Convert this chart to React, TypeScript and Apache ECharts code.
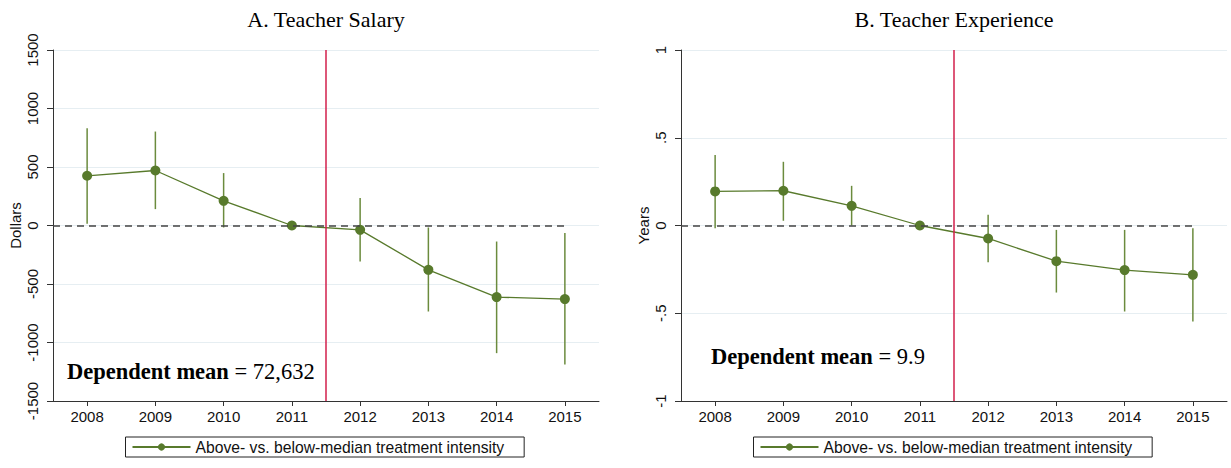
import React, { useEffect, useRef } from 'react';
import * as echarts from 'echarts';

const years = [2008, 2009, 2010, 2011, 2012, 2013, 2014, 2015];
const salaryCoef = [425, 470, 211, 0, -37, -379, -612, -629];
const salaryLo = [15, 140, -17, 0, -308, -735, -1091, -1189];
const salaryHi = [832, 803, 448, 0, 234, -17, -137, -65];
const expCoef = [0.194, 0.198, 0.112, 0, -0.074, -0.203, -0.254, -0.281];
const expLo = [-0.015, 0.027, 0.0, 0, -0.209, -0.382, -0.49, -0.547];
const expHi = [0.401, 0.363, 0.226, 0, 0.061, -0.025, -0.025, -0.015];
const seriesName = 'Above- vs. below-median treatment intensity';
const panelTitles = ['A. Teacher Salary', 'B. Teacher Experience'];
const yNames = ['Dollars', 'Years'];
const depMeans = ['72,632', '9.9'];

const GREEN = '#587a2c';
const BAR_GREEN = '#6b8b3d';
const RED = '#d21f4b';
const SANS = 'Liberation Sans, Arial, sans-serif';
const SERIF = 'Liberation Serif, Times New Roman, serif';

function fmtYears(v: number): string {
  if (v === 0) return '0';
  const s = String(Math.abs(v)).replace(/^0\./, '.');
  return (v < 0 ? '-' : '') + s;
}

export default function App() {
  const ref = useRef<HTMLDivElement>(null);
  useEffect(() => {
    if (!ref.current) return;
    const chart = echarts.init(ref.current, undefined, { renderer: 'svg' });

    const grids = [
      { left: 53, top: 50, width: 546, height: 351 },
      { left: 681, top: 50, width: 546, height: 351 },
    ];

    const xAxes = [0, 1].map((g) => ({
      type: 'value',
      gridIndex: g,
      min: 2007.5,
      max: 2015.5,
      axisLine: { show: true, onZero: false, lineStyle: { color: '#333', width: 1 } },
      axisTick: { show: true, length: 5, customValues: years, lineStyle: { color: '#333' } },
      axisLabel: {
        customValues: years,
        margin: 8,
        fontFamily: SANS,
        fontSize: 15,
        color: '#111',
        formatter: (v: number) => String(v),
      },
      splitLine: { show: false },
    }));

    const yAxes = [
      {
        type: 'value',
        gridIndex: 0,
        min: -1500,
        max: 1500,
        interval: 500,
      },
      {
        type: 'value',
        gridIndex: 1,
        min: -1,
        max: 1,
        interval: 0.5,
      },
    ].map((a, i) => ({
      ...a,
      name: yNames[i],
      nameLocation: 'middle',
      nameGap: 30,
      nameRotate: 90,
      nameTextStyle: { fontFamily: SANS, fontSize: 15, color: '#111' },
      axisLine: { show: true, lineStyle: { color: '#333', width: 1 } },
      axisTick: { show: true, length: 6, lineStyle: { color: '#333' } },
      axisLabel: {
        rotate: 90,
        margin: 13,
        fontFamily: SANS,
        fontSize: 15,
        color: '#111',
        formatter: i === 0 ? (v: number) => String(v) : fmtYears,
      },
      splitLine: { show: true, lineStyle: { color: '#e6eef2', width: 1 } },
    }));

    const panels = [
      { coef: salaryCoef, lo: salaryLo, hi: salaryHi },
      { coef: expCoef, lo: expLo, hi: expHi },
    ];

    const series: any[] = [];
    panels.forEach((p, g) => {
      series.push({
        type: 'custom',
        name: 'ci' + g,
        xAxisIndex: g,
        yAxisIndex: g,
        data: years.map((y, i) => [y, p.lo[i], p.hi[i]]),
        encode: { x: 0, y: [1, 2] },
        z: 1,
        renderItem: (params: any, api: any) => {
          const x = api.value(0);
          const a = api.coord([x, api.value(1)]);
          const b = api.coord([x, api.value(2)]);
          return {
            type: 'line',
            shape: { x1: a[0], y1: a[1], x2: b[0], y2: b[1] },
            style: { stroke: BAR_GREEN, lineWidth: 1.5 },
          };
        },
      });
      series.push({
        type: 'line',
        name: seriesName,
        xAxisIndex: g,
        yAxisIndex: g,
        data: years.map((y, i) => [y, p.coef[i]]),
        symbol: 'circle',
        symbolSize: 10,
        lineStyle: { color: GREEN, width: 1.3 },
        itemStyle: { color: GREEN },
        z: 3,
        markLine: {
          silent: true,
          symbol: ['none', 'none'],
          label: { show: false },
          z: 5,
          data: [
            [
              { coord: [2007.5, 0], lineStyle: { color: '#444', type: [7, 5], width: 1.5 } },
              { coord: [2015, 0] },
            ],
            { xAxis: 2011.5, lineStyle: { color: RED, type: 'solid', width: 1.5 } },
          ],
        },
      });
    });

    const legendBase = {
      data: [seriesName],
      orient: 'horizontal',
      top: 437,
      padding: [2, 20, 2, 6],
      itemWidth: 58,
      itemHeight: 9,
      borderColor: '#222',
      borderWidth: 1,
      selectedMode: false,
      textStyle: { fontFamily: SANS, fontSize: 15.7, color: '#111' },
    };

    const option: any = {
      animation: false,
      backgroundColor: '#fff',
      grid: grids,
      xAxis: xAxes,
      yAxis: yAxes,
      series,
      legend: [
        { ...legendBase, left: 125.5 },
        { ...legendBase, left: 753.5 },
      ],
      graphic: [
        ...panelTitles.map((t, i) => ({
          type: 'text',
          x: i === 0 ? 326 : 954,
          y: 19,
          style: {
            text: t,
            font: `22px ${SERIF}`,
            fill: '#000',
            textAlign: 'center',
            textVerticalAlign: 'middle',
          },
        })),
        ...depMeans.map((m, i) => ({
          type: 'text',
          x: i === 0 ? 67 : 711,
          y: i === 0 ? 371 : 356,
          style: {
            text: `{b|Dependent mean} = ${m}`,
            font: `22.5px ${SERIF}`,
            fill: '#000',
            textAlign: 'left',
            textVerticalAlign: 'middle',
            rich: {
              b: { fontFamily: SERIF, fontSize: 22.5, fontWeight: 'bold', fill: '#000' },
            },
          },
        })),
      ],
    };

    chart.setOption(option);
    return () => chart.dispose();
  }, []);

  return (
    <div
      ref={ref}
      style={{ position: 'fixed', left: 0, top: 0, width: 1231, height: 468, background: '#fff' }}
    />
  );
}
